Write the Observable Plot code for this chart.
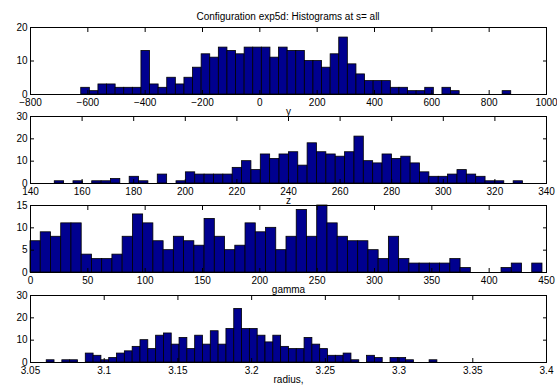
<!DOCTYPE html>
<html><head><meta charset="utf-8">
<script src="https://cdn.jsdelivr.net/npm/d3@7"></script>
<script src="https://cdn.jsdelivr.net/npm/@observablehq/plot@0.6"></script>
<style>
html,body{margin:0;padding:0;background:#fff;}
#chart{position:relative;width:557px;height:385px;background:#fff;font-family:"Liberation Sans",Arial,sans-serif;overflow:hidden;}
#chart svg{position:absolute;left:0;}
#title{position:absolute;left:30px;width:516px;top:11px;text-align:center;font-size:10px;line-height:12px;color:#000;}
</style></head><body>
<div id="chart"><div id="title">Configuration exp5d: Histograms at s= all</div></div>
<script>
// ---- data: histogram counts per bin ----
const yLabel = "y";
const yBinStart = -623, yBinWidth = 30;
const yCounts = [2,1,3,3,2,2,2,13,3,2,5,3,5,8,12,11,14,13,12,14,14,14,11,14,13,13,10,10,8,12,17,9,6,4,4,4,2,2,1,1,2,0,2,1,0,0,0,0,0,1];
const yTicksX = [-800,-600,-400,-200,0,200,400,600,800,1000];
const yTicksY = [0,10,20];

const zLabel = "z";
const zBinStart = 149.4, zBinWidth = 3.63;
const zCounts = [1,0,1,0,1,1,2,0,3,1,0,4,0,1,5,4,4,4,4,7,10,6,13,11,13,14,8,18,14,13,12,14,21,10,9,13,11,12,9,5,3,3,4,6,4,3,1,1,0,1];
const zTicksX = [140,160,180,200,220,240,260,280,300,320,340];
const zTicksY = [0,10,20,30];

const gLabel = "gamma";
const gBinStart = 0, gBinWidth = 8.93;
const gCounts = [7,9,8,11,11,4,3,3,4,8,13,11,7,5,8,7,6,12,8,5,6,11,9,10,5,8,14,8,15,11,8,7,7,5,3,8,3,2,2,2,2,3,1,0,0,0,1,2,0,2];
const gTicksX = [0,50,100,150,200,250,300,350,400,450];
const gTicksY = [0,5,10,15];

const rLabel = "radius,";
const rBinStart = 3.061, rBinWidth = 0.0053;
const rCounts = [1,0,1,1,0,4,3,1,2,4,5,7,10,6,12,13,8,11,6,12,8,14,8,15,24,15,15,12,9,12,7,6,6,11,8,6,3,3,4,1,0,3,2,0,2,2,1,0,0,1];
const rTicksX = [3.05,3.1,3.15,3.2,3.25,3.3,3.35,3.4];
const rTicksY = [0,10,20,30];

const panels = [
  {label: yLabel, start: yBinStart, w: yBinWidth, counts: yCounts, xt: yTicksX, yt: yTicksY, top: 27},
  {label: zLabel, start: zBinStart, w: zBinWidth, counts: zCounts, xt: zTicksX, yt: zTicksY, top: 116},
  {label: gLabel, start: gBinStart, w: gBinWidth, counts: gCounts, xt: gTicksX, yt: gTicksY, top: 205},
  {label: rLabel, start: rBinStart, w: rBinWidth, counts: rCounts, xt: rTicksX, yt: rTicksY, top: 295}
];

const chart = document.getElementById("chart");
const plotH = 67, mt = 6, mb = 26;
const fmt = d => String(+d.toFixed(2)).replace("-", "\u2212");

for (const p of panels) {
  const bins = p.counts.map((c, i) => ({x1: p.start + i * p.w, x2: p.start + (i + 1) * p.w, count: c}));
  const xd = [p.xt[0], p.xt[p.xt.length - 1]];
  const yd = [p.yt[0], p.yt[p.yt.length - 1]];
  const svg = Plot.plot({
    width: 557, height: plotH + mt + mb,
    marginTop: mt, marginBottom: mb, marginLeft: 30, marginRight: 11,
    style: {background: "transparent", overflow: "visible", fontFamily: "'Liberation Sans', Arial, sans-serif", fontSize: "10px", color: "black"},
    x: {domain: xd},
    y: {domain: yd},
    marks: [
      Plot.frame({fill: "white", stroke: null}),
      Plot.rectY(bins, {x1: "x1", x2: "x2", y: "count", fill: "#00008f", stroke: "black", strokeWidth: 0.8}),
      Plot.axisX({anchor: "bottom", ticks: p.xt, tickSize: -4, tickPadding: 8, tickFormat: fmt, label: null, fontSize: 10}),
      Plot.axisX({anchor: "top", ticks: p.xt, tickSize: -4, tickFormat: () => "", label: null}),
      Plot.axisY({anchor: "left", ticks: p.yt, tickSize: -4, tickPadding: 7, tickFormat: fmt, label: null, fontSize: 10}),
      Plot.axisY({anchor: "right", ticks: p.yt, tickSize: -4, tickFormat: () => "", label: null}),
      Plot.frame({stroke: "black", strokeWidth: 1}),
      Plot.text([p.label], {frameAnchor: "bottom", dy: 17, text: d => d, fontSize: 10, lineAnchor: "middle"})
    ]
  });
  svg.style.top = (p.top - mt) + "px";
  chart.appendChild(svg);
}
</script>
</body></html>
